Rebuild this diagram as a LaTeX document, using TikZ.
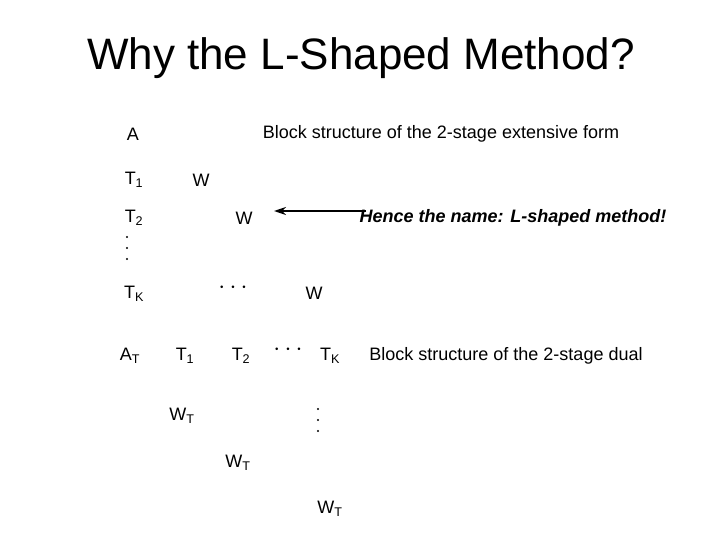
\documentclass[tikz,border=0pt]{standalone}
\usepackage{fontspec}
\setmainfont{Liberation Sans}
\usetikzlibrary{arrows.meta}
\begin{document}
\begin{tikzpicture}[x=1pt,y=-1pt,
  lbl/.style={inner sep=0pt,font=\fontsize{18}{21}\selectfont},
  dts/.style={inner sep=0pt,font=\fontsize{26}{30}\selectfont},
  dot/.style={circle,fill=black,inner sep=0pt,minimum size=2.2pt},
  ttl/.style={inner sep=0pt,font=\fontsize{44}{50}\selectfont}]
\useasboundingbox (0,0) rectangle (720,540);
\node[ttl] (title) at (361,58) {Why the L-Shaped Method?};
\node[lbl] (a) at (133,134) {A};
\node[lbl] (ext) at (441,134) {Block structure of the 2-stage extensive form};
\node[lbl] (t1) at (134,180) {T\textsubscript{1}};
\node[lbl] (w1) at (201,180) {W};
\node[lbl] (t2) at (134,218) {T\textsubscript{2}};
\node[lbl] (w2) at (244,218) {W};
\coordinate (arrstart) at (366,211);
\coordinate (arrend) at (274,211);
\node[lbl,font=\fontsize{18}{21}\selectfont\bfseries\itshape] (hence) at (513,218) {Hence the name: L-shaped method!};
\node[dot] (vd1a) at (127,237) {};
\node[dot] (vd1b) at (127,248) {};
\node[dot] (vd1c) at (127,259) {};
\node[lbl] (tk) at (134,294) {T\textsubscript{K}};
\node[dts] (cd1) at (233,288) {$\cdots$};
\node[lbl] (w3) at (314,293) {W};
\node[lbl] (at) at (130,356) {A\textsubscript{T}};
\node[lbl] (dt1) at (185,356) {T\textsubscript{1}};
\node[lbl] (dt2) at (241,356) {T\textsubscript{2}};
\node[dts] (cd2) at (288,350) {$\cdots$};
\node[lbl] (dtk) at (330,356) {T\textsubscript{K}};
\node[lbl] (dual) at (506,356) {Block structure of the 2-stage dual};
\node[lbl] (wt1) at (182,416) {W\textsubscript{T}};
\node[dot] (vd2a) at (318,409) {};
\node[dot] (vd2b) at (318,420) {};
\node[dot] (vd2c) at (318,431) {};
\node[lbl] (wt2) at (238,463) {W\textsubscript{T}};
\node[lbl] (wt3) at (330,509) {W\textsubscript{T}};
\draw[line width=1.5pt,-{Stealth[length=12pt,width=8pt]}] (arrstart) -- (arrend);
\end{tikzpicture}
\end{document}
